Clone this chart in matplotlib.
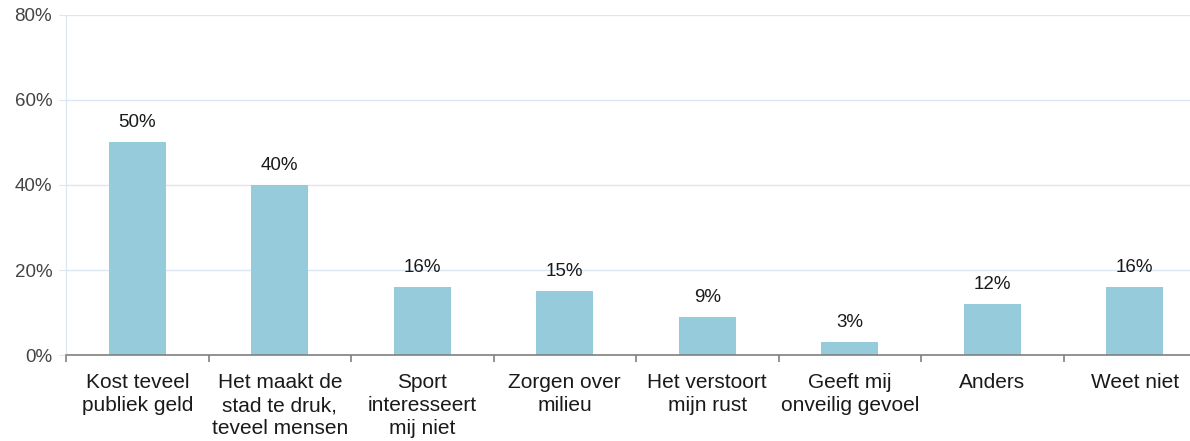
import numpy as np
import matplotlib.pyplot as plt
from matplotlib.ticker import FixedLocator

plt.rcParams['font.family'] = ['Liberation Sans', 'DejaVu Sans']

categories = ["Kost teveel\npubliek geld", "Het maakt de\nstad te druk,\nteveel mensen",
              "Sport\ninteresseert\nmij niet", "Zorgen over\nmilieu", "Het verstoort\nmijn rust",
              "Geeft mij\nonveilig gevoel", "Anders", "Weet niet"]
values = [50, 40, 16, 15, 9, 3, 12, 16]

fig = plt.figure(figsize=(11.9, 4.41), dpi=100)
ax = fig.add_axes([0.0555, 0.195, 0.958, 0.771])

x = np.arange(len(values))
bars = ax.bar(x, values, 0.4, color='#96cbdc', zorder=3)

for xi, v in zip(x, values):
    ax.annotate('%d%%' % v, (xi, v), xytext=(0, 8), textcoords='offset points',
                ha='center', va='bottom', fontsize=13.5, color='#1a1a1a')

ax.set_xlim(-0.5, len(values) - 0.5)
ax.set_ylim(0, 80)
ax.set_yticks([0, 20, 40, 60, 80])
ax.set_yticklabels(['%d%%' % t for t in [0, 20, 40, 60, 80]], fontsize=13.5, color='#444444')
ax.yaxis.grid(True, color='#dce6f2', linewidth=1, zorder=0)

ax.set_xticks(x)
ax.set_xticklabels(categories, fontsize=15, color='#1a1a1a', linespacing=1.27)
ax.xaxis.set_minor_locator(FixedLocator(np.arange(-0.5, len(values), 1.0)))
ax.tick_params(axis='x', which='major', length=0, pad=13)
ax.tick_params(axis='x', which='minor', length=5, color='#808080', width=1.2)
ax.tick_params(axis='y', length=5, color='#dce6f2', pad=5)
for lab in ax.get_xticklabels():
    lab.set_verticalalignment('top')

ax.spines['top'].set_visible(False)
ax.spines['right'].set_visible(False)
ax.spines['left'].set_color('#dce6f2')
ax.spines['bottom'].set_color('#808080')
ax.spines['bottom'].set_linewidth(1.2)
ax.spines['bottom'].set_zorder(4)

fig.savefig('out.png', dpi=100)
